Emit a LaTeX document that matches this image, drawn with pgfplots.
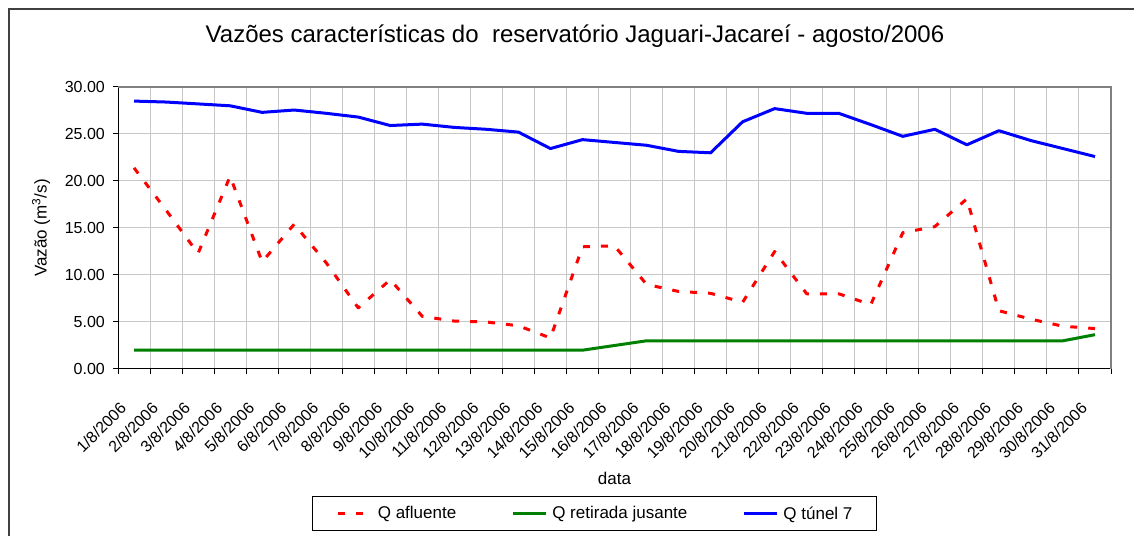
\documentclass[border=0pt]{standalone}
\usepackage{pgfplots}
\pgfplotsset{compat=1.18}
\usepackage{pgfplotstable}
\usepackage{fontspec}
\setmainfont{Liberation Sans}
\definecolor{gridgray}{RGB}{200,200,200}
\definecolor{xlred}{RGB}{255,0,0}
\definecolor{xlgreen}{RGB}{0,128,0}
\definecolor{xlblue}{RGB}{0,0,255}
\definecolor{framegray}{RGB}{64,64,64}

\pgfplotstableread{
day afl ret tun
1 21.4 2.0 28.5
2 16.9 2.0 28.4
3 12.3 2.0 28.2
4 20.5 2.0 28.0
5 11.4 2.0 27.3
6 15.4 2.0 27.55
7 11.3 2.0 27.2
8 6.5 2.0 26.8
9 9.5 2.0 25.9
10 5.6 2.0 26.05
11 5.1 2.0 25.7
12 5.0 2.0 25.5
13 4.6 2.0 25.2
14 3.3 2.0 23.45
15 13.0 2.0 24.4
16 13.1 2.5 24.1
17 9.0 3.0 23.8
18 8.25 3.0 23.15
19 8.05 3.0 23.0
20 7.1 3.0 26.3
21 12.5 3.0 27.7
22 8.0 3.0 27.2
23 8.0 3.0 27.2
24 6.85 3.0 26.0
25 14.5 3.0 24.75
26 15.15 3.0 25.5
27 18.1 3.0 23.85
28 6.2 3.0 25.35
29 5.3 3.0 24.3
30 4.55 3.0 23.45
31 4.3 3.65 22.6
}\data

\begin{document}
\begin{tikzpicture}[x=1bp,y=1bp]
\draw[framegray, line width=1.5bp] (9,-20) -- (9,527) -- (1160,527);
\begin{axis}[
  at={(118bp,167bp)}, anchor=south west,
  width=993bp, height=282bp, scale only axis,
  xmin=0.5, xmax=31.5, ymin=0, ymax=30,
  axis x line*=bottom, axis y line*=left,
  axis line style={-, black, line width=1bp},
  xtick={1,...,31},
  xticklabels={1/8/2006,2/8/2006,3/8/2006,4/8/2006,5/8/2006,6/8/2006,7/8/2006,8/8/2006,9/8/2006,10/8/2006,11/8/2006,12/8/2006,13/8/2006,14/8/2006,15/8/2006,16/8/2006,17/8/2006,18/8/2006,19/8/2006,20/8/2006,21/8/2006,22/8/2006,23/8/2006,24/8/2006,25/8/2006,26/8/2006,27/8/2006,28/8/2006,29/8/2006,30/8/2006,31/8/2006},
  every major x tick/.append style={draw=none},
  minor xtick={0.5,1.5,...,31.5},
  ytick={0,5,...,30},
  xminorgrids, ymajorgrids,
  minor grid style={gridgray, line width=1bp},
  major grid style={gridgray, line width=1bp},
  tick align=outside,
  major tick length=5bp, minor tick length=5bp,
  tick style={black, line width=1bp},
  /pgf/number format/assume math mode=true,
  yticklabel style={/pgf/number format/fixed, /pgf/number format/fixed zerofill, /pgf/number format/precision=2, inner sep=0pt, anchor=east, xshift=-8bp},
  tick label style={font=\fontsize{16bp}{18bp}\selectfont},
  xticklabel style={inner sep=0pt, anchor=north east, xshift=-15bp, yshift=-27bp, rotate=45},
  title={Vazões características do\ \ reservatório Jaguari-Jacareí - agosto/2006},
  title style={at={(axis description cs:0.4602,1.1383)}, anchor=base, font=\fontsize{24bp}{28bp}\selectfont},
  xlabel={data},
  every axis x label/.style={at={(axis description cs:0.5,-0.3865)}, anchor=center, font=\fontsize{17bp}{20bp}\selectfont},
  ylabel={Vazão (m\textsuperscript{3}/s)},
  every axis y label/.style={at={(axis description cs:-0.0775,0.5)}, rotate=90, anchor=center, font=\fontsize{17bp}{20bp}\selectfont},
  legend columns=3,
  legend image code/.code={\draw[#1] (0bp,0bp) -- (33bp,0bp);},
  legend style={at={(axis description cs:0.480,-0.5124)}, anchor=center, draw=black, line width=1bp,
    font=\fontsize{17bp}{20bp}\selectfont, inner xsep=24.5bp, inner ysep=10bp,
    nodes={inner sep=0pt},
    /tikz/every odd column/.append style={column sep=5bp},
    /tikz/every even column/.append style={column sep=55bp}},
  after end axis/.code={\draw[gray, line width=1.5bp] (rel axis cs:0,1) -- (rel axis cs:1,1) -- (rel axis cs:1,0);},
]
\addplot[xlred, line width=3bp, dash pattern=on 7bp off 11bp, line join=round] table[x=day,y=afl]{\data};
\addlegendentry{Q afluente}
\addplot[xlgreen, line width=3bp, line join=round] table[x=day,y=ret]{\data};
\addlegendentry{Q retirada jusante}
\addplot[xlblue, line width=3bp, line join=round] table[x=day,y=tun]{\data};
\addlegendentry{Q túnel 7}
\end{axis}
\pgfresetboundingbox
\useasboundingbox (0,0) rectangle (1134,536);
\end{tikzpicture}
\end{document}
